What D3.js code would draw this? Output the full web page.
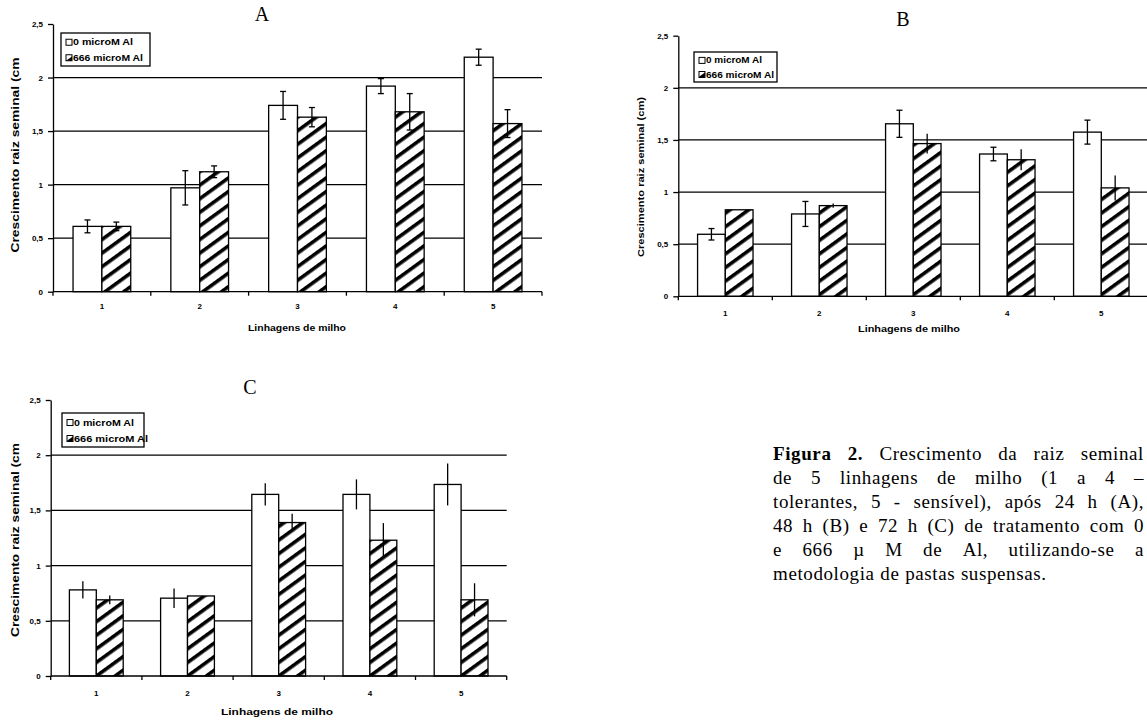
<!DOCTYPE html>
<html>
<head>
<meta charset="utf-8">
<script src="https://cdn.jsdelivr.net/npm/d3@7"></script>
<style>
  body { margin: 0; background: #fff; }
  svg { display: block; }
  .tick text, .lbl { font-family: "Liberation Sans", Arial, sans-serif; font-weight: bold; }
</style>
</head>
<body>
<svg id="fig" width="1147" height="722"></svg>
<script>
// values (cm)
const categories = ["1", "2", "3", "4", "5"];
const seriesNames = ["0 microM Al", "666 microM Al"];
const yTicks = [0, 0.5, 1, 1.5, 2, 2.5];
const yTickLabels = ["0", "0,5", "1", "1,5", "2", "2,5"];

// A - 24 h
const meanA0 = [0.61, 0.97, 1.74, 1.92, 2.19];
const meanA666 = [0.61, 1.12, 1.63, 1.68, 1.57];
const errA0 = [0.06, 0.16, 0.13, 0.07, 0.075];
const errA666 = [0.04, 0.055, 0.09, 0.17, 0.13];
// B - 48 h
const meanB0 = [0.595, 0.79, 1.655, 1.365, 1.575];
const meanB666 = [0.83, 0.87, 1.465, 1.31, 1.04];
const errB0 = [0.055, 0.12, 0.13, 0.065, 0.115];
const errB666 = [0, 0.02, 0.095, 0.1, 0.12];
// C - 72 h
const meanC0 = [0.78, 0.705, 1.645, 1.645, 1.735];
const meanC666 = [0.69, 0.725, 1.39, 1.23, 0.69];
const errC0 = [0.078, 0.088, 0.1, 0.136, 0.19];
const errC666 = [0.04, 0, 0.08, 0.155, 0.15];

const xLabel = "Linhagens de milho";
const captionLines = [
  "Figura 2. Crescimento da raiz seminal",
  "de 5 linhagens de milho (1 a 4 –",
  "tolerantes, 5 - sensível), após 24 h (A),",
  "48 h (B) e 72 h (C) de tratamento com 0",
  "e 666 µ M de Al, utilizando-se a",
  "metodologia de pastas suspensas."
];

const svg = d3.select("#fig");

// hatch used for the 666 series
const defs = svg.append("defs");
const pat = defs.append("pattern")
  .attr("id", "hatch")
  .attr("patternUnits", "userSpaceOnUse")
  .attr("width", 11)
  .attr("height", 11)
  .attr("patternTransform", "rotate(54)");
pat.append("rect").attr("width", 11).attr("height", 11).attr("fill", "white");
pat.append("rect").attr("width", 3.6).attr("height", 11).attr("fill", "black");

const fills = ["white", "url(#hatch)"];

function drawChart(cfg, means0, means666, errs0, errs666) {
  const g = svg.append("g");
  const y = d3.scaleLinear().domain([0, 2.5]).range([cfg.yBase, cfg.yTop]);
  const x = d3.scaleBand().domain(categories).range([cfg.x0, cfg.x1])
    .paddingInner(0.41).paddingOuter(0.205);
  const xs = d3.scaleBand().domain([0, 1]).range([0, x.bandwidth()]);
  const step = x.step();

  // gridlines
  g.selectAll(".grid")
    .data(yTicks.filter(d => d > 0 && d < 2.5))
    .join("line")
    .attr("x1", cfg.x0).attr("x2", cfg.x1)
    .attr("y1", d => y(d)).attr("y2", d => y(d))
    .attr("stroke", "black").attr("stroke-width", 1.3);

  // y axis
  const yAxis = g.append("g")
    .attr("transform", `translate(${cfg.x0},0)`)
    .call(d3.axisLeft(y).tickValues(yTicks)
      .tickFormat((d, i) => yTickLabels[i]).tickSize(5).tickPadding(5).tickSizeOuter(0));
  yAxis.select(".domain").attr("stroke-width", 1.3);
  yAxis.selectAll(".tick line").attr("stroke-width", 1.3);
  yAxis.selectAll(".tick text").attr("font-size", 8);

  // bars
  const rows = categories.map((c, i) => ({ c, v: [means0[i], means666[i]], e: [errs0[i], errs666[i]] }));
  const grp = g.selectAll(".grp").data(rows).join("g")
    .attr("transform", d => `translate(${x(d.c)},0)`);
  grp.selectAll("rect").data(d => d.v.map((v, k) => ({ v, k })))
    .join("rect")
    .attr("x", d => xs(d.k)).attr("width", xs.bandwidth())
    .attr("y", d => y(d.v)).attr("height", d => y(0) - y(d.v))
    .attr("fill", d => fills[d.k])
    .attr("stroke", "black").attr("stroke-width", 1.3);

  // error bars
  const eb = grp.selectAll(".eb").data(d => d.v.map((v, k) => ({ v, k, e: d.e[k] })).filter(d => d.e > 0))
    .join("g").attr("stroke", "black").attr("stroke-width", 1.3);
  eb.append("line")
    .attr("x1", d => xs(d.k) + xs.bandwidth() / 2).attr("x2", d => xs(d.k) + xs.bandwidth() / 2)
    .attr("y1", d => y(d.v + d.e)).attr("y2", d => y(d.v - d.e));
  eb.filter(d => cfg.caps[d.k]).each(function (d) {
    const cx = xs(d.k) + xs.bandwidth() / 2;
    [d.v + d.e, d.v - d.e].forEach(val => {
      d3.select(this).append("line")
        .attr("x1", cx - 3).attr("x2", cx + 3)
        .attr("y1", y(val)).attr("y2", y(val));
    });
  });

  // x axis: baseline, boundary ticks, category labels
  g.append("line")
    .attr("x1", cfg.x0).attr("x2", cfg.x1)
    .attr("y1", y(0)).attr("y2", y(0))
    .attr("stroke", "black").attr("stroke-width", 1.3);
  g.selectAll(".bt").data(d3.range(categories.length + 1)).join("line")
    .attr("x1", i => cfg.x0 + i * step).attr("x2", i => cfg.x0 + i * step)
    .attr("y1", y(0)).attr("y2", y(0) + 4)
    .attr("stroke", "black").attr("stroke-width", 1.3);
  const xAxis = g.append("g")
    .attr("transform", `translate(0,${y(0)})`)
    .call(d3.axisBottom(x).tickSize(0).tickPadding(cfg.xPad));
  xAxis.select(".domain").remove();
  xAxis.selectAll(".tick text").attr("font-size", 8);

  // axis titles
  g.append("text").attr("class", "lbl")
    .attr("x", cfg.xl[0]).attr("y", cfg.xl[1])
    .attr("text-anchor", "middle").attr("font-size", 9).attr("font-weight", "normal")
    .attr("textLength", cfg.xl[2]).attr("lengthAdjust", "spacingAndGlyphs")
    .text(xLabel);
  g.append("text").attr("class", "lbl")
    .attr("transform", `translate(${cfg.yl[0]},${cfg.yl[1]}) rotate(-90)`)
    .attr("text-anchor", "middle").attr("font-size", cfg.yl[3]).attr("font-weight", "normal")
    .attr("textLength", cfg.yl[2]).attr("lengthAdjust", "spacingAndGlyphs")
    .text(cfg.yText);

  // panel letter
  g.append("text")
    .attr("x", cfg.title[0]).attr("y", cfg.title[1])
    .attr("text-anchor", "middle")
    .attr("font-family", "Liberation Serif, Times New Roman, serif")
    .attr("font-size", cfg.title[2])
    .text(cfg.name);

  // legend
  const L = cfg.legend;
  g.append("rect").attr("x", L.x).attr("y", L.y).attr("width", L.w).attr("height", L.h)
    .attr("fill", "white").attr("stroke", "black").attr("stroke-width", 1.3);
  seriesNames.forEach((s, k) => {
    const ry = L.y + L.h * (k === 0 ? 0.28 : 0.75);
    g.append("rect").attr("x", L.x + 5).attr("y", ry - 3).attr("width", 6).attr("height", 6)
      .attr("fill", fills[k]).attr("stroke", "black").attr("stroke-width", 1);
    g.append("text").attr("class", "lbl")
      .attr("x", L.x + 12).attr("y", ry + 3)
      .attr("font-size", 8.5)
      .attr("textLength", L.tl[k]).attr("lengthAdjust", "spacingAndGlyphs")
      .text(s);
  });
}

drawChart({
  name: "A", x0: 53, x1: 542, yTop: 24, yBase: 291.7, xPad: 12,
  caps: [true, true], title: [262, 21, 20],
  legend: { x: 61, y: 33, w: 89, h: 33, tl: [60, 70] },
  xl: [297, 331, 98], yl: [19, 155, 195, 11], yText: "Crescimento raiz seminal (cm"
}, meanA0, meanA666, errA0, errA666);

drawChart({
  name: "B", x0: 678.3, x1: 1148.3, yTop: 35.7, yBase: 296.3, xPad: 14,
  caps: [true, false], title: [903, 26, 20],
  legend: { x: 694, y: 52, w: 83, h: 30, tl: [56, 68] },
  xl: [909, 332, 102], yl: [644, 177, 160, 9], yText: "Crescimento raiz seminal (cm)"
}, meanB0, meanB666, errB0, errB666);

drawChart({
  name: "C", x0: 50.7, x1: 506.7, yTop: 400, yBase: 676, xPad: 14,
  caps: [false, false], title: [250, 394, 20],
  legend: { x: 62, y: 413, w: 82, h: 34, tl: [60, 74] },
  xl: [277, 715, 112], yl: [19, 540, 194, 11], yText: "Crescimento raiz seminal (cm"
}, meanC0, meanC666, errC0, errC666);

// justified caption
const capLeft = 773, capRight = 1144, capTop = 460, capStep = 24, capSize = 19;
const cap = svg.append("g")
  .attr("font-family", "Liberation Serif, Times New Roman, serif")
  .attr("font-size", capSize)
  .attr("letter-spacing", 0.6);
captionLines.forEach((line, li) => {
  const words = line.split(" ");
  const yy = capTop + li * capStep;
  const nodes = words.map((w, wi) => cap.append("text")
    .attr("y", yy)
    .attr("font-weight", li === 0 && wi < 2 ? "bold" : "normal")
    .text(w));
  const widths = nodes.map(n => n.node().getComputedTextLength());
  const total = d3.sum(widths);
  const last = li === captionLines.length - 1;
  const gap = last ? capSize * 0.3 : (capRight - capLeft - total) / (words.length - 1);
  let cx = capLeft;
  nodes.forEach((n, i) => {
    n.attr("x", cx);
    cx += widths[i] + gap;
  });
});
</script>
</body>
</html>
